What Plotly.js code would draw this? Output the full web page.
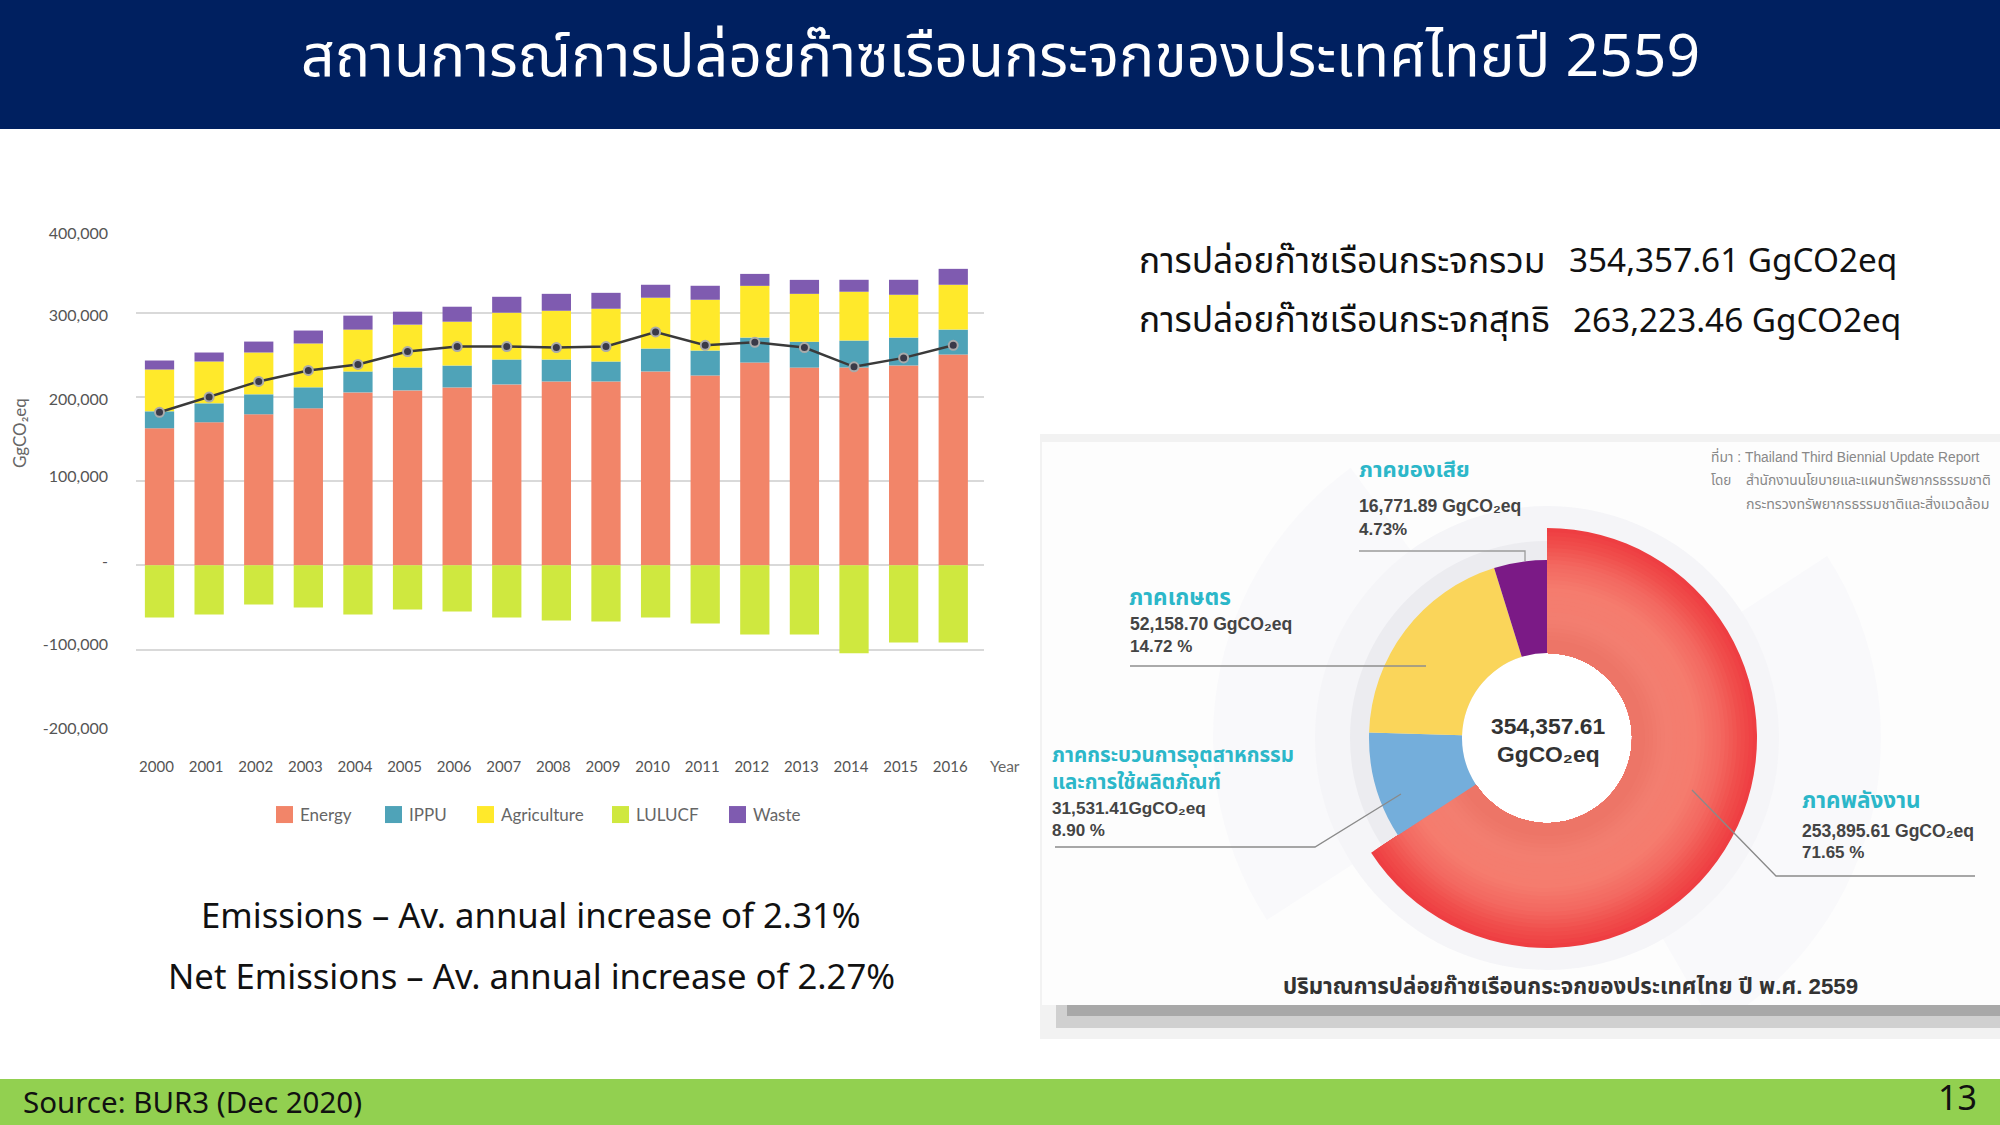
<!DOCTYPE html>
<html><head><meta charset="utf-8">
<script src="https://cdn.plot.ly/plotly-3.0.1.min.js"></script>
<style>html,body{margin:0;padding:0;background:#fff}#c{width:2000px;height:1125px}</style>
</head><body><div id="c"></div>
<script>
// ---- bar chart data (GgCO2eq) ----
const years = ['2000','2001','2002','2003','2004','2005','2006','2007','2008','2009','2010','2011','2012','2013','2014','2015','2016'];
const energy = [162900,170000,179500,186600,205500,207900,211400,215000,218500,218500,230400,225600,241000,235000,235100,237500,250500];
const ippu = [20100,22500,23700,24900,24900,27200,26000,29600,26000,23700,27200,29600,29600,30800,32000,33100,29600];
const agriculture = [49700,49700,49700,52100,49700,50900,52100,55600,58000,62700,60400,60400,61500,56800,58000,50900,53300];
const lulucf = [-61900,-58400,-46500,-50100,-58400,-52500,-54800,-61900,-65500,-66700,-61900,-69000,-82000,-82000,-104500,-91500,-91500];
const waste = [10700,10700,13000,15400,16600,15400,17800,18900,20100,18900,15400,16600,14200,16600,14200,17800,18900];
const netEmissions = [181900,200000,218500,231600,238700,254000,260000,260000,258800,260000,277300,261500,265000,258800,235900,246500,261500];
const yTickVals = [-200000,-100000,0,100000,200000,300000,400000];
const yTickText = ['-200,000','-100,000','-','100,000','200,000','300,000','400,000'];

const sectorNames = ['ภาคพลังงาน','ภาคกระบวนการอุตสาหกรรมและการใช้ผลิตภัณฑ์','ภาคเกษตร','ภาคของเสีย'];
const sectorArcShares = [65.8,9.7,19.7,4.8];
const sectorColors = ['#EE4444','#74AEDB','#FAD55A','#7B1A86'];
const none = 'rgba(0,0,0,0)';

const THAI = '"Noto Sans Thai","Noto Sans","Open Sans",sans-serif';
const INFO = '"Liberation Sans","Noto Sans Thai","Noto Sans",sans-serif';
const CH = 'Lato,"Open Sans",sans-serif';
const W = 2000, H = 1125;
const px = v => v / W, py = v => 1 - v / H;

function txt(x, y, text, size, color, opt) {
  return Object.assign({xref:'paper', yref:'paper', x:px(x), y:py(y), text:text, showarrow:false,
    xanchor:'left', yanchor:'middle', align:'left',
    font:{family:THAI, size:size, color:color}}, opt||{});
}
const info = (x,y,text,size,color,opt) => { const a = txt(x,y,text,size,color,opt); a.font.family = INFO; return a; };

const cx = 1547, cy = 738, rHole = 85, rOther = 178;
function ring(R, colors) {
  return {type:'pie', sort:false, direction:'clockwise', rotation:0, labels:sectorNames, values:sectorArcShares,
    hole:rHole/R, textinfo:'none', hoverinfo:'skip', showlegend:false,
    marker:{colors:colors, line:{width:0}},
    domain:{x:[px(cx-R),px(cx+R)], y:[py(cy+R),py(cy-R)]}};
}
// the red slice is drawn as nested rings to imitate its radial shading
const redStops = [[210,[238,62,66]],[195,[240,78,76]],[175,[243,104,96]],[150,[245,124,110]],[120,[243,126,112]],[95,[236,116,102]]];
function redAt(r){
  for (let i=0;i<redStops.length-1;i++){
    const a=redStops[i], b=redStops[i+1];
    if (r<=a[0] && r>=b[0]) { const t=(a[0]-r)/(a[0]-b[0]); const c=a[1].map((v,k)=>Math.round(v+(b[1][k]-v)*t)); return `rgb(${c.join(',')})`; }
  }
  return `rgb(${redStops[redStops.length-1][1].join(',')})`;
}
const pieTraces = [];
for (let R=210; R>=96; R-=4) pieTraces.push(ring(R,[redAt(R),none,none,none]));
pieTraces.push(ring(rOther,[none,sectorColors[1],sectorColors[2],sectorColors[3]]));

const barBase = {type:'bar', x:years};
const traces = [
  Object.assign({},barBase,{name:'Energy', y:energy, marker:{color:'#F28569'}}),
  Object.assign({},barBase,{name:'IPPU', y:ippu, marker:{color:'#4FA3B8'}}),
  Object.assign({},barBase,{name:'Agriculture', y:agriculture, marker:{color:'#FFE92B'}}),
  Object.assign({},barBase,{name:'LULUCF', y:lulucf, marker:{color:'#CFE83F'}}),
  Object.assign({},barBase,{name:'Waste', y:waste, marker:{color:'#7F5BB0'}}),
  {type:'scatter', mode:'lines+markers', x:years, y:netEmissions, name:'Net', showlegend:false,
   line:{color:'#3A3A3A', width:2.5}, marker:{size:9, color:'#3A3A48', line:{color:'#AAAAAA', width:2}}}
].concat(pieTraces);

function sector(R,a0,a1,fill){
  const pts=[`M ${px(cx)} ${py(cy)}`];
  for(let a=a0;a<=a1;a+=3){const t=a*Math.PI/180; pts.push(`L ${px(cx+R*Math.sin(t))} ${py(cy-R*Math.cos(t))}`);}
  pts.push('Z');
  return {type:'path',xref:'paper',yref:'paper',layer:'below',fillcolor:fill,line:{width:0},path:pts.join(' ')};
}
const rect=(x0,y0,x1,y1,fill)=>({type:'rect',xref:'paper',yref:'paper',x0:px(x0),x1:px(x1),y0:py(y1),y1:py(y0),fillcolor:fill,line:{width:0},layer:'below'});
const disc=(R,fill)=>({type:'circle',xref:'paper',yref:'paper',layer:'below',x0:px(cx-R),x1:px(cx+R),y0:py(cy+R),y1:py(cy-R),fillcolor:fill,line:{width:0}});
const lead=(pts,col)=>({type:'path',xref:'paper',yref:'paper',layer:'above',line:{color:col,width:1.3},
  path:pts.map((p,i)=>`${i?'L':'M'} ${px(p[0])} ${py(p[1])}`).join(' ')});

const shapes = [
  rect(0,0,2000,129,'#002060'),
  rect(0,1079,2000,1125,'#92D050'),
  // infographic panel
  rect(1040,434,2000,1039,'#F2F2F2'),
  rect(1042,442,2000,1005,'#FDFDFD'),
  sector(334,57,150,'#F9F9FB'),
  sector(334,237,324,'#F9F9FB'),
  disc(232,'#F5F5F8'),
  disc(197,'#ECECF0'),
  disc(rHole,'#FFFFFF'),
  rect(1056,1005,2000,1028,'#D0D0D0'),
  rect(1067,1005,2000,1016,'#A8A8A8'),
  // leader lines
  lead([[1359,551],[1525,551],[1525,561]],'#9A9A9A'),
  lead([[1130,666],[1426,666]],'#8E8E8E'),
  lead([[1055,847],[1315,847],[1401,794]],'#8A8A8A'),
  lead([[1692,790],[1776,876],[1975,876]],'#8A8A8A')
];

const teal = '#2CB7C9', dark = '#444444';
const annotations = [
  txt(1000,58,'สถานการณ์การปล่อยก๊าซเรือนกระจกของประเทศไทยปี 2559',58.8,'#FFFFFF',{xanchor:'center'}),
  txt(1137,262,'การปล่อยก๊าซเรือนกระจกรวม',35.3,'#111111'),
  txt(1567,262,'354,357.61 GgCO2eq',33.3,'#111111'),
  txt(1137,322,'การปล่อยก๊าซเรือนกระจกสุทธิ',35.3,'#111111'),
  txt(1571,322,'263,223.46 GgCO2eq',33.3,'#111111'),
  txt(531,918,'Emissions – Av. annual increase of 2.31%',34.7,'#111111',{xanchor:'center'}),
  txt(531,978,'Net Emissions – Av. annual increase of 2.27%',34.7,'#111111',{xanchor:'center'}),
  txt(21,1104,'Source: BUR3 (Dec 2020)',29.5,'#111111'),
  txt(1957,1099,'13',34,'#111111',{xanchor:'center'}),
  txt(988,766,'Year',15.5,'#666666',{font:{family:CH,size:15.5,color:'#666666'}}),
  txt(20,433,'GgCO₂eq',17,'#666666',{xanchor:'center',textangle:-90,font:{family:CH,size:17,color:'#666666'}}),
  txt(1357,470,'<b>ภาคของเสีย</b>',22,teal),
  info(1357,506,'<b>16,771.89 GgCO₂eq</b>',17.6,dark),
  info(1357,530,'<b>4.73%</b>',17,dark),
  txt(1127,598,'<b>ภาคเกษตร</b>',22.5,teal),
  info(1128,624,'<b>52,158.70 GgCO₂eq</b>',17.6,dark),
  info(1128,646,'<b>14.72 %</b>',17,dark),
  info(1050,755,'<b>ภาคกระบวนการอุตสาหกรรม</b>',20.5,teal),
  info(1050,781,'<b>และการใช้ผลิตภัณฑ์</b>',20.5,teal),
  info(1050,808,'<b>31,531.41GgCO₂eq</b>',17.2,dark),
  info(1050,830,'<b>8.90 %</b>',17,dark),
  txt(1800,801,'<b>ภาคพลังงาน</b>',22.5,teal),
  info(1800,831,'<b>253,895.61 GgCO₂eq</b>',17.6,dark),
  info(1800,852,'<b>71.65 %</b>',17,dark),
  info(1548,726,'<b>354,357.61</b>',22.8,'#333333',{xanchor:'center'}),
  info(1548,754,'<b>GgCO₂eq</b>',22.8,'#333333',{xanchor:'center'}),
  info(1570,986,'<b>ปริมาณการปล่อยก๊าซเรือนกระจกของประเทศไทย ปี พ.ศ. 2559</b>',22.3,'#333333',{xanchor:'center'}),
  info(1709,456,'ที่มา : Thailand Third Biennial Update Report',13.8,'#888888'),
  info(1709,480,'โดย',13.5,'#888888'),
  info(1744,480,'สำนักงานนโยบายและแผนทรัพยากรธรรมชาติ',13.8,'#888888'),
  info(1744,504,'กระทรวงทรัพยากรธรรมชาติและสิ่งแวดล้อม',14.2,'#888888')
];

const layout = {
  width:W, height:H, margin:{l:0,r:0,t:0,b:0}, paper_bgcolor:'#FFFFFF', plot_bgcolor:'rgba(0,0,0,0)',
  barmode:'relative', bargap:0.41,
  font:{family:CH, size:15, color:'#666666'},
  xaxis:{domain:[px(136),px(984)], type:'category', range:[-0.474,16.62], showgrid:false, showline:false, zeroline:false,
    ticks:'', ticklabelstandoff:22, ticklabelshift:-3, tickfont:{family:CH,size:15,color:'#555555'}, fixedrange:true},
  yaxis:{domain:[py(733.7),py(228.7)], range:[-200000,400000], tickvals:yTickVals, ticktext:yTickText,
    showgrid:true, gridcolor:'#D9D9D9', gridwidth:2, zeroline:true, zerolinecolor:'#D9D9D9', zerolinewidth:2, showline:false,
    ticks:'', ticklabelstandoff:27, tickfont:{family:CH,size:16,color:'#555555'}, fixedrange:true},
  legend:{orientation:'h', xref:'paper', yref:'paper', x:px(240), xanchor:'left', y:py(815), yanchor:'middle',
    entrywidth:150, entrywidthmode:'pixels',
    font:{family:CH,size:17,color:'#666666'}, bgcolor:'rgba(0,0,0,0)', traceorder:'normal', itemclick:false, itemdoubleclick:false},
  shapes:shapes, annotations:annotations, showlegend:true
};
// legend swatch centres on the page; the reference spaces its entries unevenly
const legendSwatchCentres = [284.5,393.5,485.5,620.5,737.5];
// the reference's y tick labels sit slightly off their gridlines (same order as yTickVals)
const yTickNudges = [-5,-5,-4,-5,2,3,5];
Plotly.newPlot('c', traces, layout, {displayModeBar:false}).then(gd=>{
  const root = gd.getBoundingClientRect();
  gd.querySelectorAll('.legend .traces').forEach((g,i)=>{
    const p = g.querySelector('.legendpoints path');
    if (p) p.setAttribute('d','M8.5,8.5H-8.5V-8.5H8.5Z');
    const m = /translate\(\s*([-\d.]+)[ ,]+([-\d.]+)/.exec(g.getAttribute('transform')||'translate(0,0)');
    const tx = parseFloat(m[1]), ty = parseFloat(m[2]);
    const b = p.getBoundingClientRect();
    g.setAttribute('transform',`translate(${tx + legendSwatchCentres[i]-(b.left+b.width/2-root.left)},${ty})`);
    const t = g.querySelector('text.legendtext');
    const tb = t.getBoundingClientRect();
    t.setAttribute('x', parseFloat(t.getAttribute('x')) + (legendSwatchCentres[i]+15.5) - (tb.left-root.left));
  });
  gd.querySelectorAll('.ytick text').forEach((t,i)=>{
    const y = parseFloat(t.getAttribute('y')||'0');
    t.setAttribute('y', y + (yTickNudges[i]||0));
  });
});
</script></body></html>
